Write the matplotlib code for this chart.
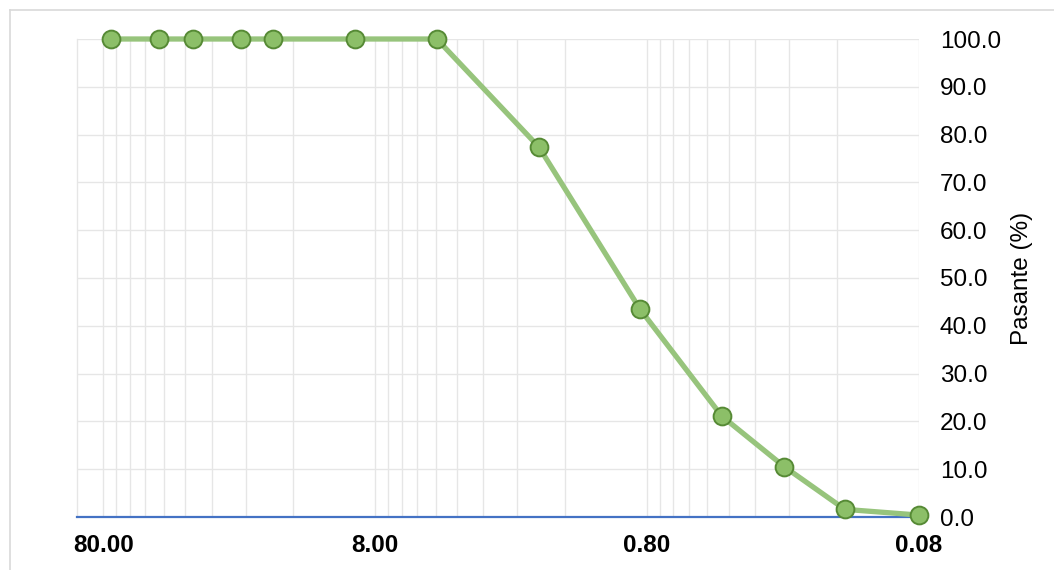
import matplotlib
matplotlib.use("Agg")
import matplotlib.pyplot as plt
from matplotlib.lines import Line2D
from matplotlib.ticker import FixedLocator, FixedFormatter, NullFormatter

plt.rcParams['font.family'] = ['Liberation Sans', 'DejaVu Sans']

# Data
sieve_mm = [75, 50, 37.5, 25, 19, 9.5, 4.75, 2.0, 0.85, 0.425, 0.25, 0.15, 0.08]
passing_pct = [100.0, 100.0, 100.0, 100.0, 100.0, 100.0, 100.0, 77.4, 43.5, 21.1, 10.5, 1.6, 0.4]
x_major = [80, 8, 0.8, 0.08]
x_major_labels = ["80.00", "8.00", "0.80", "0.08"]
y_ticks = [0, 10, 20, 30, 40, 50, 60, 70, 80, 90, 100]
y_tick_labels = [f"{v:.1f}" for v in y_ticks]
y_label = "Pasante (%)"

W, H = 1054, 570
fig = plt.figure(figsize=(W / 100, H / 100), dpi=100)
left, right, top, bottom = 77, 919, 39, 517
ax = fig.add_axes([left / W, 1 - bottom / H, (right - left) / W, (bottom - top) / H])

ax.set_xscale('log')
ax.set_xlim(100, 0.08)
ax.set_ylim(0, 100)

grid_c = '#e6e6e6'
minor = []
for n in range(4):
    for k in range(1, 10):
        v = k * 0.08 * 10 ** n
        if v <= 100:
            minor.append(v)
ax.xaxis.set_major_locator(FixedLocator(x_major))
ax.xaxis.set_major_formatter(FixedFormatter(x_major_labels))
ax.xaxis.set_minor_locator(FixedLocator(minor))
ax.xaxis.set_minor_formatter(NullFormatter())
ax.grid(True, which='both', axis='x', color=grid_c, lw=1)
ax.yaxis.set_major_locator(FixedLocator(y_ticks))
ax.yaxis.set_major_formatter(FixedFormatter(y_tick_labels))
ax.grid(True, which='major', axis='y', color=grid_c, lw=1)
ax.set_axisbelow(True)

ax.yaxis.tick_right()
ax.tick_params(axis='y', length=0, pad=15, labelsize=17.5, labelcolor='#000000')
for lab in ax.get_yticklabels():
    lab.set_horizontalalignment('left')
ax.tick_params(axis='x', which='both', length=0, pad=12, labelsize=17.5)
for lab in ax.get_xticklabels():
    lab.set_fontweight('bold')

for s in ['top', 'right']:
    ax.spines[s].set_visible(False)
ax.spines['left'].set_color(grid_c)
ax.spines['left'].set_linewidth(1)
ax.spines['bottom'].set_color('#4472C4')
ax.spines['bottom'].set_linewidth(1.6)
ax.spines['bottom'].set_zorder(2.5)

ax.plot(sieve_mm, passing_pct, color='#97C47C', lw=3.8, solid_capstyle='round',
        marker='o', markersize=12.8, markerfacecolor='#8CBF68',
        markeredgecolor='#568A35', markeredgewidth=1.4, zorder=3, clip_on=False)

fig.text(1022 / W, 1 - 278 / H, y_label, rotation=90, ha='center', va='center', fontsize=17.5)

# chart border
fig.add_artist(Line2D([10 / W, 10 / W], [0, 1 - 10 / H], color='#d9d9d9', lw=1.2))
fig.add_artist(Line2D([10 / W, 1], [1 - 10 / H, 1 - 10 / H], color='#d9d9d9', lw=1.2))

fig.savefig('out.png', dpi=100)
